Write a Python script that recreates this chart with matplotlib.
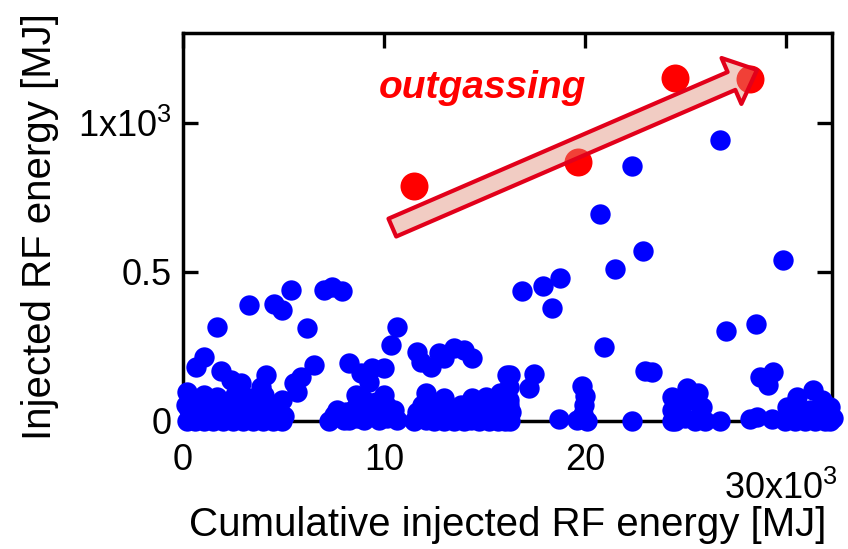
import matplotlib
matplotlib.use("Agg")
import matplotlib.pyplot as plt
from matplotlib.patches import FancyArrowPatch

plt.rcParams["font.family"] = ["Liberation Sans", "DejaVu Sans"]
plt.rcParams["mathtext.fontset"] = "custom"
plt.rcParams["mathtext.rm"] = "Liberation Sans"
plt.rcParams["mathtext.it"] = "Liberation Sans:italic"

# Shots: cumulative injected energy [MJ] vs energy injected per shot [MJ]
shot_x = [
    26690, 22310, 20720, 22860, 21460, 29830, 16880, 17880, 18770, 18330,
    20920, 22960, 23310, 26990, 28490, 28680, 29330, 29080, 16280, 17430,
    17180, 16230, 16230, 16330, 16280, 18720, 19820, 19970, 19920, 19870,
    19570, 20070, 22310, 24300, 24300, 24300, 25050, 25600, 25800, 25200,
    24700, 24450, 25450, 25950, 24950, 25700, 26690, 28190, 28540, 29280,
    31320, 30530, 30030, 31770, 32170, 30680, 31170, 31670, 32170, 31420,
    30430, 29930, 30930, 31920, 32300,
    5380, 7020, 7420, 7920, 3290, 4530, 4930, 1690, 6180, 1050,
    650, 1890, 2390, 2890, 4130, 3880, 4030, 6520, 5880, 5530, 5680,
    200, 600, 1050, 1490, 1990, 2490, 2990, 3490, 3980, 4480, 4930,
    300, 700, 1290, 1790, 2390, 3040, 3690, 4380, 5030,
    400, 1050, 1690, 2590, 3290, 200,
    150, 1290, 2190, 3290, 4030, 4680, 4930,
    8270, 8860, 9410, 10010, 9260, 10660, 10360, 8620, 9610, 10110,
    8120, 8270, 9010, 9760, 10660, 7270, 7670, 8570, 9010,
    7520, 8020, 8670, 9360, 10160, 10510, 8760, 10010,
    11650, 11850, 12350, 12750, 13500, 13990, 14390, 13000,
    12100, 13000, 11900, 12100, 12750, 13600, 14390, 15090, 15740, 16090,
    14590, 15390, 14340, 15240, 15990, 13990, 11500, 12600, 13300,
    11650, 12350, 13250, 13840, 14840, 15740, 16230, 13500, 13000, 14740,
    15640, 12500,
]
shot_y = [
    943, 856, 695, 571, 510, 540, 436, 453, 480, 379,
    248, 168, 165, 302, 326, 148, 164, 121, 154, 158,
    111, 114, 70, 30, 0, 7, 117, 84, 54, 23,
    3, 0, 0, 81, 37, 0, 111, 94, 47, 70,
    37, 0, 0, 0, 10, 20, 0, 7, 13, 7,
    104, 81, 47, 70, 47, 20, 37, 20, 0, 0,
    0, 0, 0, 0, 10,
    440, 440, 450, 436, 389, 393, 373, 315, 312, 215,
    181, 168, 138, 128, 154, 114, 87, 188, 148, 128, 97,
    0, 0, 0, 0, 0, 0, 0, 0, 0, 0, 0,
    37, 57, 64, 44, 57, 30, 37, 30, 17,
    77, 87, 81, 87, 77, 97,
    54, 20, 10, 17, 20, 54, 70,
    195, 161, 178, 178, 131, 315, 255, 87, 64, 54,
    30, 3, 3, 3, 3, 0, 37, 44, 70,
    20, 3, 10, 30, 10, 37, 54, 87,
    232, 198, 181, 228, 245, 238, 211, 211,
    94, 77, 54, 3, 13, 13, 77, 81, 94, 154,
    27, 27, 3, 0, 0, 0, 0, 40, 30,
    30, 44, 37, 54, 54, 37, 54, 0, 0, 0,
    0, 0,
]

# Outgassing events
gas_x = [11500, 19620, 24450, 28190]
gas_y = [789, 869, 1150, 1148]

# Trend arrow (start, end) in data units
trend_start = (10410, 649)
trend_end = (28540, 1178)

x_ticks = [0, 10000, 20000, 30000]
x_ticklabels = ["0", "10", "20", ""]
y_ticks = [0, 500, 1000]
y_ticklabels = ["0", "0.5", "1x10$^{3}$"]

fig = plt.figure(figsize=(8.48, 5.49), dpi=100)
ax = fig.add_axes([0.2158, 0.2332, 0.7653, 0.7067])

ax.scatter(shot_x, shot_y, s=215, c="#0000ff", linewidths=0, clip_on=False, zorder=3)
ax.scatter(gas_x, gas_y, s=406, c="#ff0000", linewidths=0, clip_on=False, zorder=4)

arrow = FancyArrowPatch(
    trend_start, trend_end,
    arrowstyle="simple,head_length=20,head_width=36,tail_width=14",
    mutation_scale=1, shrinkA=0, shrinkB=0,
    facecolor=(226 / 255, 143 / 255, 123 / 255, 0.45),
    edgecolor="#e2001a", linewidth=3, zorder=5,
)
ax.add_patch(arrow)

ax.text(14890, 1118, "outgassing", color="#ff0000", fontsize=28,
        fontweight="bold", fontstyle="italic", ha="center", va="center", zorder=6)

ax.set_xlim(0, 32270)
ax.set_ylim(0, 1302)
ax.set_xticks(x_ticks)
ax.set_xticklabels(x_ticklabels)
ax.set_yticks(y_ticks)
ax.set_yticklabels(y_ticklabels)
ax.annotate("30x10$^{3}$", xy=(30000, 0), xycoords=("data", "axes fraction"),
            xytext=(-4, -36), textcoords="offset points",
            ha="center", va="top", fontsize=26)

ax.tick_params(axis="both", which="major", direction="in", length=11, width=2.4,
               top=True, right=True, labelsize=26)
ax.tick_params(axis="x", pad=16)
ax.tick_params(axis="y", pad=8)
for sp in ax.spines.values():
    sp.set_linewidth(2.5)

ax.set_xlabel("Cumulative injected RF energy [MJ]", fontsize=29, labelpad=20)
ax.set_ylabel("Injected RF energy [MJ]", fontsize=29, labelpad=14)

fig.savefig("out.png", dpi=100)
